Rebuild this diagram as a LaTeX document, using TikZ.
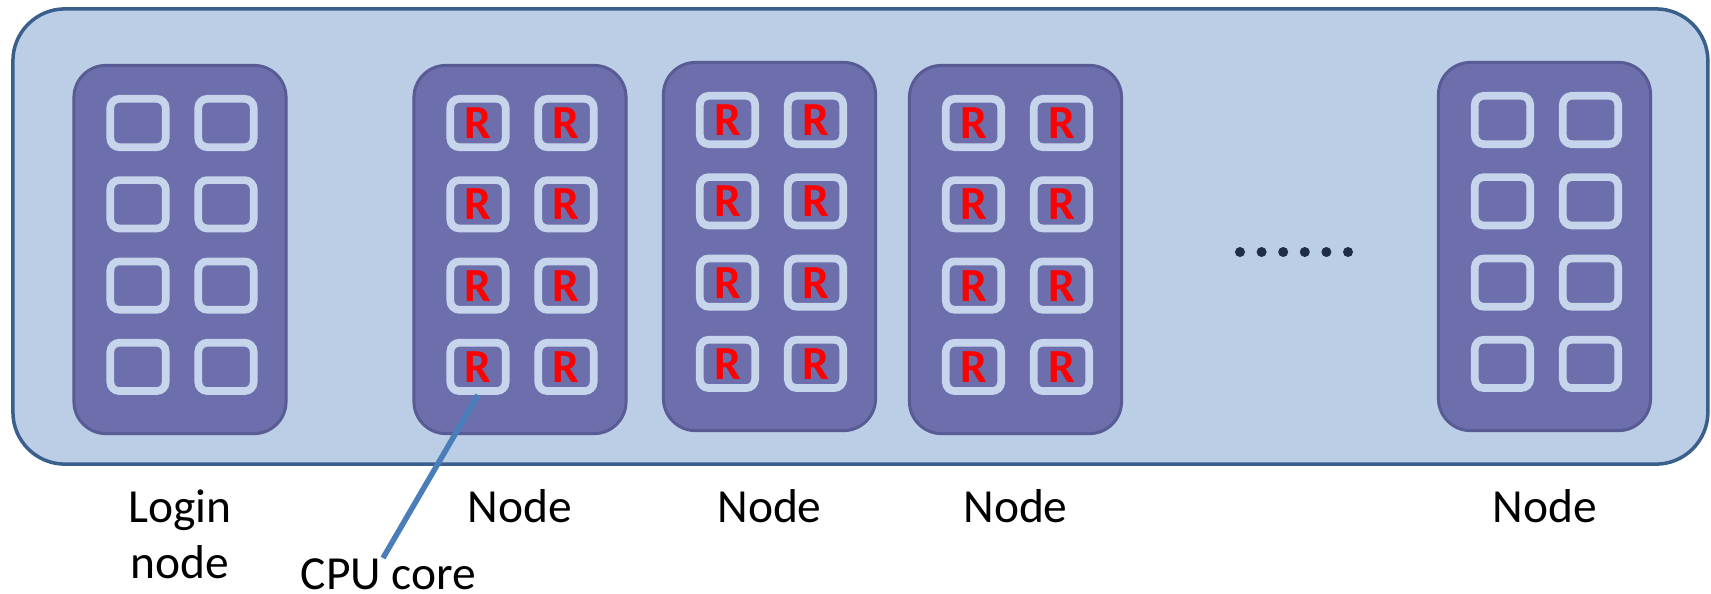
\documentclass[tikz,border=0pt]{standalone}
\usepackage{fontspec}
\setmainfont{Carlito}
\usetikzlibrary{calc}
\definecolor{clusterblue}{RGB}{187,206,230}
\definecolor{clusterline}{RGB}{58,95,140}
\definecolor{nodepurple}{RGB}{108,111,171}
\definecolor{nodeline}{RGB}{88,91,148}
\definecolor{coreline}{RGB}{198,213,235}
\definecolor{pointerblue}{RGB}{74,126,187}
\definecolor{darknavy}{RGB}{31,45,70}

\begin{document}
\begin{tikzpicture}[x=0.01cm, y=-0.01cm,
    cluster/.style={draw=clusterline, fill=clusterblue, line width=0.035cm,
      rounded corners=0.52cm, minimum width=16.94cm, minimum height=4.55cm},
    machine/.style={draw=nodeline, fill=nodepurple, line width=0.03cm,
      rounded corners=0.32cm, minimum width=2.12cm, minimum height=3.68cm},
    core/.style={draw=coreline, line width=0.077cm, rounded corners=0.09cm,
      minimum width=0.553cm, minimum height=0.483cm, inner sep=0pt,
      text=red, font=\fontsize{13.5}{16}\selectfont\bfseries},
    caption/.style={anchor=north, inner sep=0pt, align=center,
      font=\fontsize{13.5}{15.9}\selectfont},
    pointer/.style={draw=pointerblue, line width=0.055cm}]

  \useasboundingbox (0,0) rectangle (1711,593);

  % Cluster frame
  \node[cluster] (cluster) at (860.4,236.5) {};

  % Machines, each with 2x4 cores (R = busy core)
  \foreach \m/\x/\y/\t in {login/180/249.5/{}, n1/520/249.5/R,
      n2/769.5/246.5/R, n3/1015.5/249.5/R, n4/1544.5/246.5/{}} {
    \node[machine] (\m) at (\x,\y) {};
    \foreach \row in {1,...,4}
      \foreach \col/\dx in {1/-42, 2/46}
        \node[core] (\m-\row-\col) at (\x+\dx, \y-126.5+81.3*\row-81.3) {\t};
  }

  % More machines
  \foreach \i in {0,...,5}
    \fill[darknavy] (1240+21.6*\i,252) circle (0.05cm);

  % Labels
  \node[caption] (login-label) at (180,489) {Login\\node};
  \foreach \m in {n1,n2,n3,n4}
    \node[caption] (\m-label) at (\m |- login-label.north) {Node};

  \node[caption] (cpu) at (388.5,558) {CPU core};
  \draw[pointer] (n1-4-1.south) -- ([xshift=-0.055cm]cpu.north);
\end{tikzpicture}
\end{document}
